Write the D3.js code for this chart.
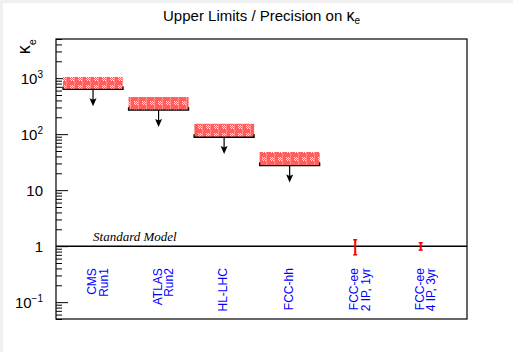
<!DOCTYPE html>
<html>
<head>
<meta charset="utf-8">
<script src="https://cdn.jsdelivr.net/npm/d3@7"></script>
<style>
  html, body { margin: 0; padding: 0; background: #f0f0f0; }
  #chart { position: absolute; left: 3px; top: 3px; }
  text { font-family: "Liberation Sans", Arial, sans-serif; }
</style>
</head>
<body>
<div id="chart"></div>
<script>
// categories (two-line labels split into arrays)
const labelLines = [['CMS', 'Run1'], ['ATLAS', 'Run2'], ['HL-LHC'], ['FCC-hh'], ['FCC-ee', '2 IP, 1yr'], ['FCC-ee', '4 IP, 3yr']];
// upper limits: hatched band between low and high
const limitHigh = [1050, 460, 153, 48];
const limitLow = [630, 268, 88, 27.5];
// precision measurements at FCC-ee (index 4 and 5)
const precIndex = [4, 5];
const precValue = [1, 1];
const precError = [0.3, 0.15];
const smValue = 1;
const majorTicks = [0.1, 1, 10, 100, 1000];
const tickLabels = [['10', '\u22121'], ['1', ''], ['10', ''], ['10', '2'], ['10', '3']];

const W = 510, H = 349;
const frame = { left: 53, top: 36, right: 464, bottom: 316 };

const svg = d3.select('#chart').append('svg').attr('width', W).attr('height', H).style('background', '#fff');

const x = d3.scaleLinear().domain([-0.565, 5.706]).range([frame.left, frame.right]);
const y = d3.scaleLog().domain([0.05, 5000]).range([frame.bottom, frame.top]);

// pattern for the limit bands
const defs = svg.append('defs');
const pat = defs.append('pattern').attr('id', 'hatch').attr('patternUnits', 'userSpaceOnUse')
  .attr('width', 8).attr('height', 8).attr('x', 0).attr('y', 0);
pat.append('rect').attr('width', 8).attr('height', 8).attr('fill', '#ff5e5e');
for (let i = 0; i < 4; i++) {
  for (let j = 0; j < 4; j++) {
    if ((i + j) % 2 === 0) {
      pat.append('rect').attr('x', 3 + i).attr('y', 2 + j).attr('width', 1).attr('height', 1).attr('fill', '#ffe0e0');
    }
  }
}
pat.append('rect').attr('x', 7).attr('y', 0).attr('width', 1).attr('height', 8).attr('fill', '#ff9090');

// title
const title = svg.append('text').attr('x', (frame.left + frame.right) / 2).attr('y', 18)
  .attr('text-anchor', 'middle').style('font-size', '15px').attr('fill', '#000');
title.append('tspan').text('Upper Limits / Precision on ');
title.append('tspan').style('font-size', '16px').text('\u03ba');
title.append('tspan').attr('dy', 3).style('font-size', '10px').text('e');

// y axis title
const yt = svg.append('text').attr('transform', `translate(${frame.left - 26},${frame.top}) rotate(-90)`)
  .attr('text-anchor', 'end').style('font-size', '18px');
yt.append('tspan').text('\u03ba');
yt.append('tspan').attr('dy', 6).style('font-size', '11px').text('e');

// minor ticks
const minor = y.ticks().filter(v => !majorTicks.some(m => Math.abs(m - v) < 1e-9));
svg.append('g').attr('transform', `translate(${frame.left},0)`)
  .call(d3.axisRight(y).tickValues(minor).tickSize(6).tickFormat(''))
  .call(g => g.select('.domain').remove());
svg.append('g').attr('transform', `translate(${frame.left},0)`)
  .call(d3.axisRight(y).tickValues(majorTicks).tickSize(12).tickFormat(''))
  .call(g => g.select('.domain').remove());

// tick labels
majorTicks.forEach((v, i) => {
  const t = svg.append('text').attr('x', frame.left - 13).attr('y', y(v) + 5.5)
    .attr('text-anchor', 'end').style('font-size', '15px');
  t.append('tspan').text(tickLabels[i][0]);
  if (tickLabels[i][1]) {
    t.append('tspan').attr('dy', -6).style('font-size', '10px').text(tickLabels[i][1]);
  }
});

// standard model line
svg.append('line').attr('x1', frame.left).attr('x2', frame.right)
  .attr('y1', y(smValue)).attr('y2', y(smValue)).attr('stroke', '#000').attr('stroke-width', 1.5);
svg.append('text').attr('x', x(0)).attr('y', y(smValue) - 5)
  .style('font-family', '"Liberation Serif", "Times New Roman", serif').style('font-style', 'italic')
  .style('font-size', '13px').text('Standard Model');

// limit bands
const hw = 0.458;
const lim = svg.append('g').selectAll('g').data(limitHigh).join('g');
lim.append('rect')
  .attr('x', (d, i) => x(i - hw)).attr('width', (d, i) => x(i + hw) - x(i - hw))
  .attr('y', d => y(d)).attr('height', (d, i) => y(limitLow[i]) - y(d))
  .attr('fill', 'url(#hatch)');
lim.append('path')
  .attr('d', (d, i) => {
    const y0 = y(limitLow[i]);
    return `M${x(i - hw)},${y0 - 3}V${y0}H${x(i + hw)}V${y0 - 3}`;
  })
  .attr('fill', 'none').attr('stroke', '#000').attr('stroke-width', 1.3);
// arrows down to half the limit
lim.append('line')
  .attr('x1', (d, i) => x(i)).attr('x2', (d, i) => x(i))
  .attr('y1', (d, i) => y(limitLow[i])).attr('y2', (d, i) => y(limitLow[i] / 2) - 6)
  .attr('stroke', '#000').attr('stroke-width', 1.2);
lim.append('path')
  .attr('d', (d, i) => {
    const cx = x(i), tip = y(limitLow[i] / 2);
    return `M${cx},${tip}L${cx - 3.5},${tip - 8}L${cx},${tip - 6.5}L${cx + 3.5},${tip - 8}Z`;
  })
  .attr('fill', '#000');

// precision error bars
const eb = svg.append('g').selectAll('g').data(precValue).join('g');
eb.append('line')
  .attr('x1', (d, k) => x(precIndex[k])).attr('x2', (d, k) => x(precIndex[k]))
  .attr('y1', (d, k) => y(d + precError[k])).attr('y2', (d, k) => y(d - precError[k]))
  .attr('stroke', '#f00').attr('stroke-width', 2);
eb.selectAll('line.cap').data((d, k) => [[k, d + precError[k]], [k, d - precError[k]]]).join('line')
  .attr('class', 'cap')
  .attr('x1', c => x(precIndex[c[0]]) - 2).attr('x2', c => x(precIndex[c[0]]) + 2)
  .attr('y1', c => y(c[1])).attr('y2', c => y(c[1]))
  .attr('stroke', '#f00').attr('stroke-width', 1.5);

// category labels
labelLines.forEach((lines, i) => {
  lines.forEach((s, j) => {
    svg.append('text')
      .attr('transform', `translate(${x(i) + 3 + j * 11.7},${y(smValue) + 22}) rotate(-90)`)
      .attr('text-anchor', 'end').style('font-size', '12px').attr('fill', '#0000ff').text(s);
  });
});

// frame
svg.append('rect').attr('x', frame.left).attr('y', frame.top)
  .attr('width', frame.right - frame.left).attr('height', frame.bottom - frame.top)
  .attr('fill', 'none').attr('stroke', '#000').attr('stroke-width', 1.2);
</script>
</body>
</html>
